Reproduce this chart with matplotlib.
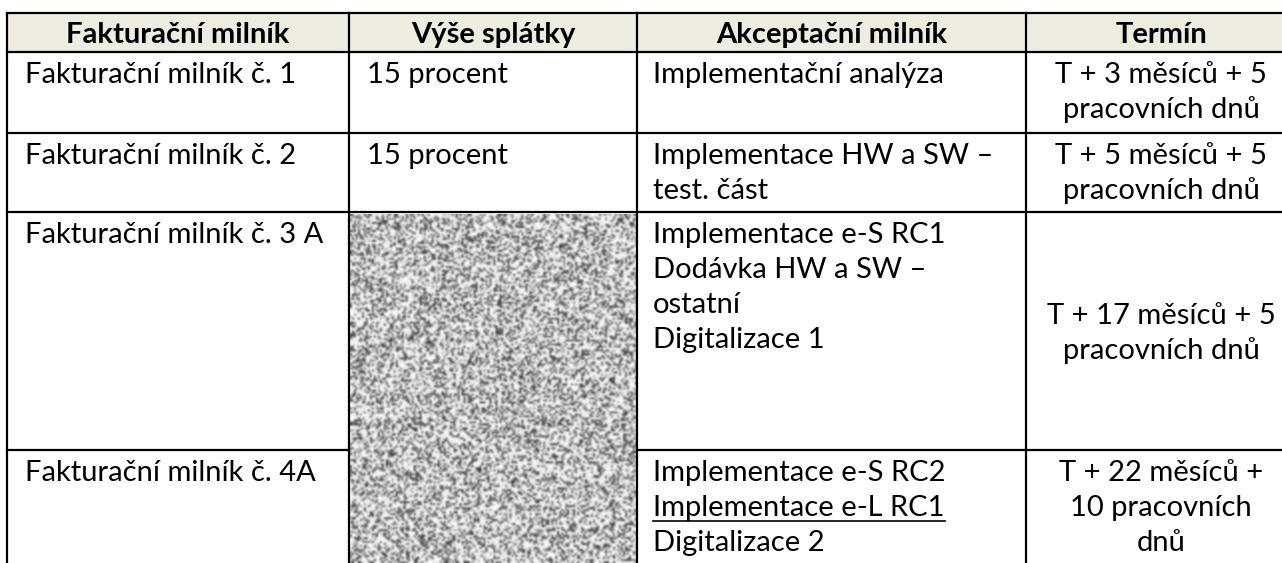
"""
Fakturační milníky — tabulka splátek a termínů (redakční šum ve sloupci 2)
"""

import numpy as np
import matplotlib.pyplot as plt
from matplotlib.lines import Line2D

W, H = 1282, 563

headers = ["Fakturační milník", "Výše splátky", "Akceptační milník", "Termín"]

billing = [
    "Fakturační milník č. 1",
    "Fakturační milník č. 2",
    "Fakturační milník č. 3 A",
    "Fakturační milník č. 4A",
]
amounts = ["15 procent", "15 procent", None, None]  # None = redacted cell
acceptance = [
    ["Implementační analýza"],
    ["Implementace HW a SW –", "test. část"],
    ["Implementace e-S RC1", "Dodávka HW a SW –", "ostatní", "Digitalizace 1"],
    ["Implementace e-S RC2", "Implementace e-L RC1", "Digitalizace 2"],
]
underlined = {(3, 1)}
deadlines = [
    ["T + 3 měsíců + 5", "pracovních dnů"],
    ["T + 5 měsíců + 5", "pracovních dnů"],
    ["T + 17 měsíců + 5", "pracovních dnů"],
    ["T + 22 měsíců +", "10 pracovních", "dnů"],
]
deadline_vcenter = [False, False, True, False]

# layout (pixels)
col_x = [7, 349, 637, 1026, 1296]
row_y = [13, 52, 133, 212, 450, 600]
pad = 18
pitch = 35
first_base = 31
header_bg = "#eeece1"
font = ["Lato", "DejaVu Sans"]
fs = 21


def main():
    fig = plt.figure(figsize=(W / 100, H / 100), dpi=100)
    ax = fig.add_axes([0, 0, 1, 1])
    ax.set_xlim(0, W)
    ax.set_ylim(H, 0)
    ax.axis("off")

    # header band
    ax.add_patch(plt.Rectangle((col_x[0], row_y[0]), W - col_x[0], row_y[1] - row_y[0],
                               color=header_bg, lw=0, zorder=0))
    for i, h in enumerate(headers):
        cx = (col_x[i] + col_x[i + 1]) / 2
        ax.text(cx, row_y[0] + 30, h, ha="center", va="baseline",
                fontsize=fs, fontweight="bold", family=font)

    # redaction noise over merged amount cell (rows 3-4) -- texture only, not data
    rng = np.random.default_rng(3)
    nx, ny = (col_x[2] - col_x[1]) // 2, (H - row_y[3]) // 2
    g = rng.random((ny, nx))
    noise = np.where(g < 0.42, rng.uniform(0.2, 0.65, (ny, nx)),
                     rng.uniform(0.88, 1.0, (ny, nx)))
    ax.imshow(noise, cmap="gray", vmin=0, vmax=1, interpolation="bicubic",
              extent=(col_x[1] + 1, col_x[2], H, row_y[3] + 2), aspect="auto", zorder=1)

    texts = []
    for r in range(4):
        top = row_y[r + 1]
        base = top + first_base
        ax.text(col_x[0] + pad, base, billing[r], va="baseline", fontsize=fs, family=font)
        if amounts[r]:
            ax.text(col_x[1] + pad, base, amounts[r], va="baseline", fontsize=fs, family=font)
        for k, line in enumerate(acceptance[r]):
            t = ax.text(col_x[2] + pad - 2, base + k * pitch, line, va="baseline",
                        fontsize=fs, family=font)
            if (r, k) in underlined:
                texts.append(t)
        lines = deadlines[r]
        b0 = base
        if deadline_vcenter[r]:
            mid = (row_y[r + 1] + row_y[r + 2]) / 2
            b0 = mid - (len(lines) - 1) * pitch / 2 + 10
        cx = (col_x[3] + col_x[4]) / 2
        for k, line in enumerate(lines):
            ax.text(cx, b0 + k * pitch, line, ha="center", va="baseline",
                    fontsize=fs, family=font)

    # grid lines
    lw = 1.6
    kw = dict(color="black", lw=lw, zorder=3, solid_capstyle="projecting")
    for y in row_y[:4]:
        ax.add_line(Line2D([col_x[0], W], [y, y], **kw))
    ax.add_line(Line2D([col_x[0], col_x[1]], [row_y[4]] * 2, **kw))
    ax.add_line(Line2D([col_x[2], W], [row_y[4]] * 2, **kw))
    for x in (col_x[0], col_x[1], col_x[3]):
        ax.add_line(Line2D([x, x], [row_y[0], H], **kw))
    ax.add_line(Line2D([col_x[2], col_x[2]], [row_y[0], H], **kw))

    # underline
    fig.canvas.draw()
    inv = ax.transData.inverted()
    for t in texts:
        bb = t.get_window_extent()
        (x0, _), (x1, _) = inv.transform([(bb.x0, bb.y0), (bb.x1, bb.y0)])
        _, yb = t.get_position()
        ax.add_line(Line2D([x0, x1], [yb + 5, yb + 5], color="black", lw=1.2))

    fig.savefig("out.png", dpi=100)
    plt.close(fig)


if __name__ == "__main__":
    main()
